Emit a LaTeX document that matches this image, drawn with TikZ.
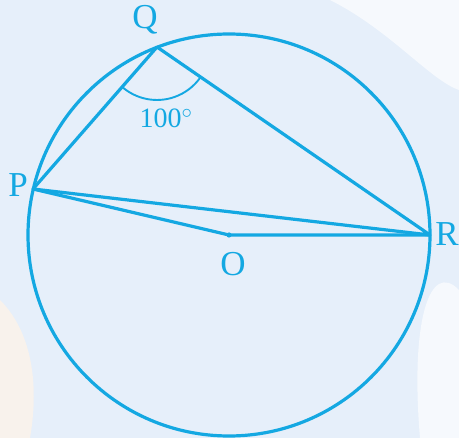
\documentclass[tikz,border=0pt]{standalone}
\usepackage{fontspec}
\setmainfont{Liberation Serif}
\usetikzlibrary{calc}
\definecolor{geo}{RGB}{20,168,226}
\definecolor{bgb}{RGB}{230,239,250}
\definecolor{bgw}{RGB}{246,249,253}
\definecolor{bgo}{RGB}{248,242,236}
\begin{document}
\begin{tikzpicture}[x=1pt,y=-1pt,
  geoline/.style={draw=geo,line width=3.2pt,line join=round},
  lbl/.style={text=geo,font=\fontsize{35}{37}\selectfont,inner sep=0pt},
  anglbl/.style={text=geo,font=\fontsize{28}{30}\selectfont,inner sep=0pt}]
\useasboundingbox (0,0) rectangle (459,438);
\fill[bgb] (0,0) rectangle (459,438);
\fill[bgw] (330,0) .. controls (390,30) and (430,80) .. (459,90) -- (459,0) -- cycle;
\fill[bgw] (459,290) .. controls (430,260) and (410,320) .. (420,438) -- (459,438) -- cycle;
\fill[bgo] (0,300) .. controls (30,330) and (40,380) .. (30,438) -- (0,438) -- cycle;
\coordinate (O) at (229,235);
\coordinate (Q) at (157,47);
\coordinate (P) at (33,189);
\coordinate (R) at (430,235);
\draw[geoline] (O) circle (201);
\draw[geoline] (P) -- (Q) -- (R) -- cycle;
\draw[geoline] (P) -- (O) -- (R);
\fill[geo] (O) circle (2.6);
\draw[draw=geo,line width=1.9pt] ($(Q)!53pt!(P)$) arc[start angle=131.1, end angle=34.5, radius=53];
\node[lbl] (lq) at (145,20) {Q};
\node[lbl] (lp) at (18,185) {P};
\node[lbl] (lr) at (447,234) {R};
\node[lbl] (lo) at (233,264) {O};
\node[anglbl] (la) at (166,118) {100$^\circ$};
\end{tikzpicture}
\end{document}
